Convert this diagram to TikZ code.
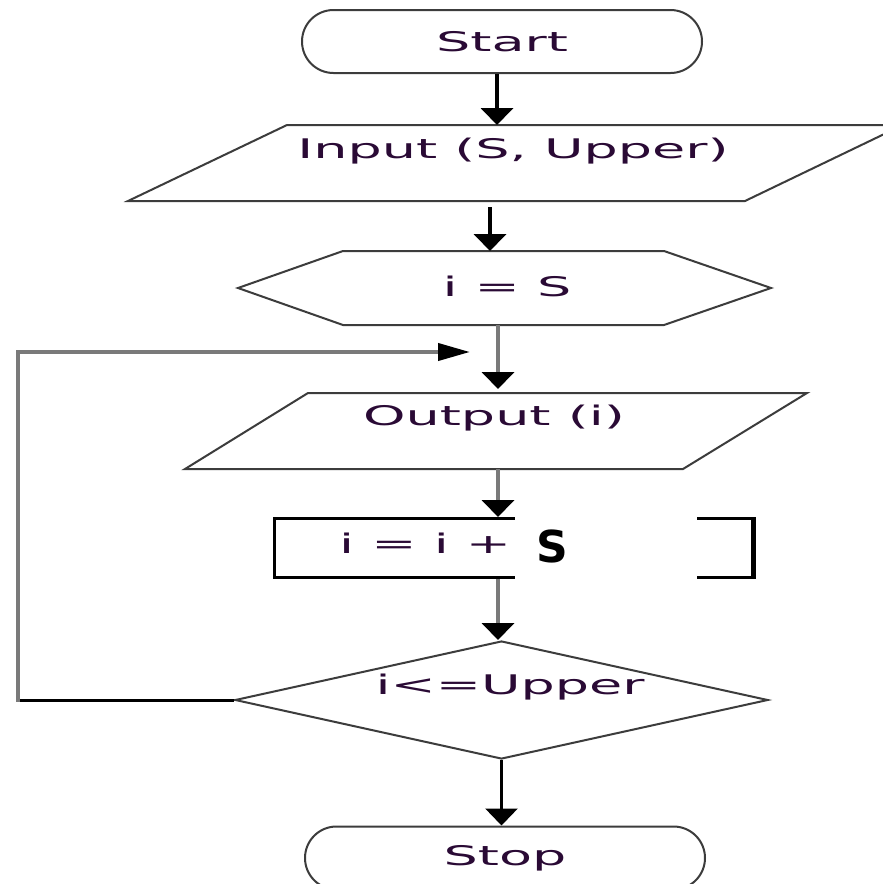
\documentclass[tikz,border=0pt]{standalone}
\usepackage{fontspec}
\newfontfamily\flowfont[FakeStretch=2.0]{DejaVu Sans}
\newfontfamily\boldsfont{DejaVu Sans}
\usetikzlibrary{arrows.meta,shapes.geometric,shapes.misc}
\definecolor{edge}{HTML}{3C3C3C}
\definecolor{shaftgray}{HTML}{7A7A7A}
\definecolor{txtcol}{HTML}{2A0A35}
\begin{document}
\begin{tikzpicture}[x=1pt,y=-1pt,
  outline/.style={draw=edge,line width=2pt,line join=miter},
  lbl/.style={font=\flowfont\fontsize{27}{31}\selectfont,text=txtcol,inner sep=0pt,anchor=base},
  term/.style={rounded rectangle,outline,minimum width=400pt,minimum height=63pt,inner sep=0pt,
    font=\flowfont\fontsize{27}{31}\selectfont,text=txtcol},
  dtip/.style={-{Triangle[width=32pt,length=17pt,color=black]}},
  rtip/.style={-{Triangle[width=17pt,length=32pt,color=black]}},
  blackshaft/.style={line width=4pt,draw=black,dtip},
  grayshaft/.style={line width=4pt,draw=shaftgray,dtip},
]
\useasboundingbox (0,0) rectangle (883,884);
\clip (0,0) rectangle (883,884);
\fill[white] (0,0) rectangle (883,884);

% Start
\node[term] (start) at (502,41.5) {Start};

% Input parallelogram
\draw[outline] (287,125) -- (903,125) -- (745,201) -- (128,201) -- cycle;
\node[lbl] (input) at (513,158) {Input (S, Upper)};
\coordinate (inTop) at (497,125);
\coordinate (inBot) at (490,207);

% initialisation hexagon
\draw[outline] (343,251) -- (664,251) -- (771,288) -- (664,325) -- (343,325) -- (238,288) -- cycle;
\node[lbl] (init) at (507,296) {i = S};
\coordinate (hexTop) at (490,251);
\coordinate (hexBot) at (498,325);

% Output parallelogram
\draw[outline] (308,393) -- (807,393) -- (683,469) -- (185,469) -- cycle;
\node[lbl] (output) at (494,425) {Output (i)};
\coordinate (outTop) at (498,389);
\coordinate (outBot) at (498,469);

% process rectangle
\node[draw=black,line width=3pt,minimum width=479pt,minimum height=59pt,inner sep=0pt] (proc) at (513.5,548) {};
\draw[line width=5pt] ([xshift=-1pt]proc.north east) -- ([xshift=-1pt]proc.south east);
\node[lbl,anchor=base west] (incr) at (339,553) {i = i +};
\fill[white] (515,513) rectangle (697,582);
\node[font=\boldsfont\bfseries\fontsize{44}{50}\selectfont,anchor=base,inner sep=0pt] (svar) at (552,562) {S};

% decision diamond
\node[diamond,outline,minimum width=533pt,minimum height=118pt,inner sep=0pt,aspect=4.5] (test) at (501.5,700) {};
\node[lbl] (cond) at (510,694) {i<=Upper};

% Stop
\node[term] (stop) at (505,858) {Stop};

% loop coordinates
\coordinate (loopA) at (18,700);
\coordinate (loopB) at (18,352);
\coordinate (loopTip) at (470,352);

% connectors
\draw[blackshaft] ([xshift=-5pt]start.south) -- (inTop);
\draw[blackshaft] (inBot) -- (hexTop);
\draw[grayshaft] (hexBot) -- (outTop);
\draw[grayshaft] (outBot) -- ([xshift=-15.5pt]proc.north);
\draw[grayshaft] ([xshift=-15.5pt]proc.south) -- ([xshift=-3.5pt]test.north);
\draw[line width=3pt,draw=black,dtip] (test.south) -- (test.south |- stop.north);
\draw[line width=3pt,draw=black] (test.west) -- (loopA);
\draw[line width=4pt,draw=shaftgray,line join=miter,rtip] ([yshift=-1.5pt]loopA) -- (loopB) -- (loopTip);
\end{tikzpicture}
\end{document}
